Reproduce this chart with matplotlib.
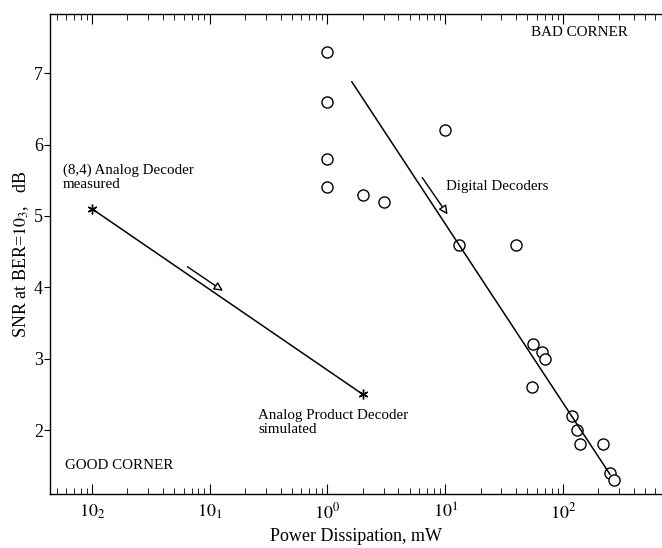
import numpy as np
import matplotlib
matplotlib.use("Agg")
import matplotlib.pyplot as plt
from matplotlib.ticker import LogLocator, NullFormatter, FixedLocator, FixedFormatter

plt.rcParams["font.family"] = "Liberation Serif"
plt.rcParams["mathtext.fontset"] = "stix"

# digital decoder survey points (power in mW, SNR in dB)
digital_power = [1, 1, 1, 1, 2, 3, 10, 13, 40, 55.6, 66, 70, 55, 119, 132, 140, 219, 250, 272]
digital_snr = [7.3, 6.6, 5.8, 5.4, 5.3, 5.2, 6.2, 4.6, 4.6, 3.2, 3.1, 3.0, 2.6, 2.2, 2.0, 1.8, 1.8, 1.4, 1.3]

# trend line through the digital decoders
trend_power = [1.61, 251]
trend_snr = [6.88, 1.38]

# analog decoders: measured (8,4) and simulated product decoder
analog_power = [0.01, 2.0]
analog_snr = [5.1, 2.5]

xtick_vals = [1e-2, 1e-1, 1e0, 1e1, 1e2]
xtick_labels = [r"$10_2$", r"$10_1$", r"$10^0$", r"$10^1$", r"$10^2$"]
ytick_vals = [2, 3, 4, 5, 6, 7]

fig = plt.figure(figsize=(6.62, 5.48), dpi=100)
ax = fig.add_axes([50 / 662, 1 - 494 / 548, 613 / 662, 480 / 548])

ax.plot(digital_power, digital_snr, "o", ms=8, mfc="white", mec="black", mew=1.0, ls="none")
ax.plot(trend_power, trend_snr, color="black", lw=1.1)
ax.plot(analog_power, analog_snr, color="black", lw=1.1,
        marker=(6, 2, 0), ms=7, mew=1.0)

# direction arrows
arrow = dict(arrowstyle="-|>", fc="white", ec="black", lw=1.0, mutation_scale=13)
ax.annotate("", xy=(0.1355, 3.93), xytext=(0.0618, 4.31), arrowprops=arrow)
ax.annotate("", xy=(10.8, 4.99), xytext=(6.19, 5.57), arrowprops=arrow)

fs = 10.8
ax.text(53.4, 7.57, "BAD CORNER", fontsize=fs, va="center", ha="left")
ax.text(0.0059, 1.51, "GOOD CORNER", fontsize=fs, va="center", ha="left")
ax.text(0.00566, 5.73, "(8,4) Analog Decoder\nmeasured", fontsize=fs, va="top", ha="left",
        linespacing=1.05)
ax.text(0.259, 2.29, "Analog Product Decoder\nsimulated", fontsize=fs, va="top", ha="left",
        linespacing=1.05)
ax.text(10.1, 5.42, "Digital Decoders", fontsize=fs, va="center", ha="left")

ax.set_xscale("log")
ax.set_xlim(10 ** -2.357, 10 ** 2.85)
ax.set_ylim(1.105, 7.83)

ax.xaxis.set_major_locator(FixedLocator(xtick_vals))
ax.xaxis.set_major_formatter(FixedFormatter(xtick_labels))
ax.xaxis.set_minor_locator(LogLocator(base=10, subs=np.arange(2, 10)))
ax.xaxis.set_minor_formatter(NullFormatter())
ax.set_yticks(ytick_vals)

ax.tick_params(axis="x", which="both", direction="in", top=True, labelsize=13, pad=6)
ax.tick_params(axis="x", which="major", length=7)
ax.tick_params(axis="x", which="minor", length=4)
ax.tick_params(axis="y", which="major", direction="out", length=4, pad=1, labelsize=13)
ax.tick_params(axis="y", which="major", right=True)

ax.set_xlabel("Power Dissipation, mW", fontsize=13, labelpad=4)
ax.set_ylabel(r"SNR at BER=$10_3$,   dB", fontsize=13, labelpad=2)

for s in ax.spines.values():
    s.set_linewidth(1.0)

fig.savefig("out.png", dpi=100)
